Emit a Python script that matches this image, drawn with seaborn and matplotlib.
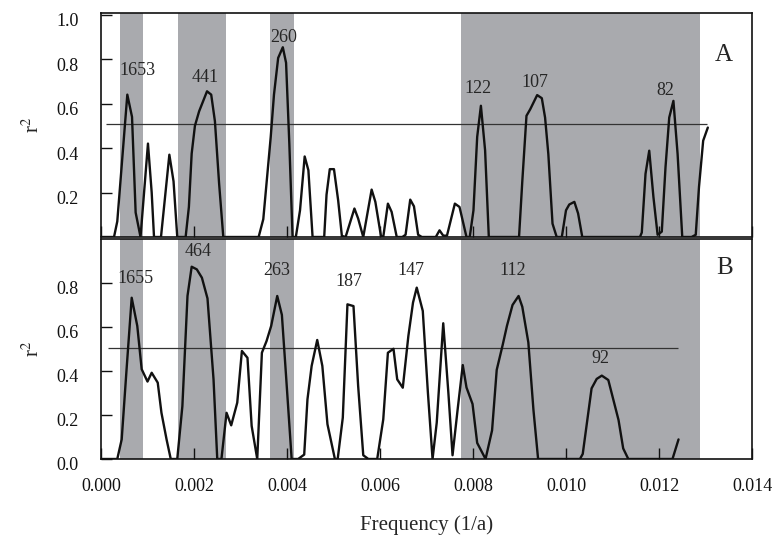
import matplotlib
matplotlib.use("Agg")
import matplotlib.pyplot as plt
from matplotlib.transforms import ScaledTranslation
import seaborn as sns
import pandas as pd

# Periodogram A: frequency (1/a) and r^2
freq_a = [0.0, 0.00028, 0.00035, 0.000566, 0.000667, 0.000745, 0.00085, 0.00101,
          0.00109, 0.00114, 0.00129, 0.00147, 0.00156, 0.00164, 0.00182, 0.00189,
          0.00195, 0.00202, 0.00211, 0.00228, 0.00237, 0.00245, 0.00254, 0.00263,
          0.00339, 0.00349, 0.00365, 0.00372, 0.00381, 0.00391, 0.00398, 0.00405,
          0.00412, 0.00419, 0.00428, 0.00438, 0.00446, 0.00455, 0.0048, 0.00485,
          0.00492, 0.00501, 0.0051, 0.00518, 0.00526, 0.00545, 0.00553, 0.00564,
          0.00582, 0.0059, 0.00602, 0.00607, 0.00617, 0.00625, 0.00636, 0.00648,
          0.00655, 0.00665, 0.00673, 0.00682, 0.0069, 0.0072, 0.00728, 0.00736,
          0.00744, 0.00761, 0.00771, 0.00786, 0.00793, 0.00801, 0.00809, 0.00817,
          0.00826, 0.00834, 0.00899, 0.00906, 0.00915, 0.00923, 0.00938, 0.00948,
          0.00955, 0.00962, 0.00971, 0.0098, 0.00991, 0.0100, 0.01007, 0.01018,
          0.01026, 0.01035, 0.01159, 0.01163, 0.01171, 0.01179, 0.01188, 0.01197,
          0.01206, 0.01214, 0.01222, 0.01231, 0.0124, 0.0125, 0.0127, 0.01279,
          0.01286, 0.01295, 0.01305]
r2_a = [0.0, 0.0, 0.07, 0.64, 0.54, 0.11, 0.0, 0.42,
        0.20, 0.0, 0.0, 0.37, 0.25, 0.0, 0.0, 0.135,
        0.375, 0.50, 0.565, 0.655, 0.64, 0.52, 0.24, 0.0,
        0.0, 0.08, 0.45, 0.64, 0.805, 0.853, 0.783, 0.42,
        0.0, 0.0, 0.12, 0.362, 0.30, 0.0, 0.0, 0.19,
        0.305, 0.305, 0.165, 0.005, 0.0, 0.128, 0.083, 0.0,
        0.213, 0.158, 0.005, 0.0, 0.15, 0.113, 0.0, 0.0,
        0.01, 0.168, 0.138, 0.01, 0.0, 0.0, 0.03, 0.006,
        0.006, 0.15, 0.135, 0.0, 0.0, 0.12, 0.45, 0.59,
        0.39, 0.0, 0.0, 0.25, 0.545, 0.574, 0.638, 0.624,
        0.537, 0.373, 0.06, 0.0, 0.0, 0.12, 0.146, 0.158,
        0.106, 0.0, 0.0, 0.02, 0.284, 0.388, 0.18, 0.01,
        0.024, 0.314, 0.537, 0.612, 0.373, 0.0, 0.0, 0.01,
        0.225, 0.433, 0.492]

# Periodogram B
freq_b = [0.0, 0.00035, 0.000445, 0.00055, 0.00066, 0.00078, 0.000875, 0.0010,
          0.00109, 0.00122, 0.0013, 0.00141, 0.0015, 0.00164, 0.00175, 0.00186,
          0.00195, 0.00206, 0.00217, 0.00229, 0.00242, 0.0025, 0.00259, 0.0027,
          0.0028, 0.00293, 0.00303, 0.00315, 0.00324, 0.00336, 0.00346, 0.00356,
          0.00366, 0.00379, 0.00389, 0.00398, 0.0041, 0.00424, 0.00437, 0.00444,
          0.00453, 0.00465, 0.00476, 0.00487, 0.00503, 0.00509, 0.0052, 0.0053,
          0.00543, 0.00553, 0.00564, 0.00575, 0.00594, 0.00607, 0.00617, 0.00629,
          0.00637, 0.00649, 0.00661, 0.00671, 0.00679, 0.00692, 0.00703, 0.00713,
          0.00722, 0.00736, 0.00747, 0.00756, 0.00767, 0.00778, 0.00786, 0.00799,
          0.00809, 0.00827, 0.00841, 0.00851, 0.00864, 0.00873, 0.00885, 0.00898,
          0.00906, 0.00919, 0.0093, 0.0094, 0.0103, 0.01036, 0.01055, 0.01066,
          0.01077, 0.01091, 0.01113, 0.01123, 0.01134, 0.01229, 0.01242]
r2_b = [0.0, 0.0, 0.089, 0.408, 0.733, 0.605, 0.408, 0.352,
        0.392, 0.347, 0.21, 0.089, 0.0, 0.0, 0.24, 0.741,
        0.874, 0.862, 0.824, 0.73, 0.362, 0.0, 0.0, 0.21,
        0.153, 0.256, 0.491, 0.46, 0.15, 0.0, 0.483, 0.536,
        0.605, 0.741, 0.655, 0.377, 0.0, 0.0, 0.02, 0.271,
        0.423, 0.541, 0.423, 0.158, 0.0, 0.0, 0.188, 0.703,
        0.695, 0.332, 0.017, 0.0, 0.0, 0.18, 0.483, 0.501,
        0.362, 0.324, 0.559, 0.711, 0.779, 0.673, 0.302, 0.0,
        0.165, 0.617, 0.302, 0.017, 0.226, 0.427, 0.325, 0.25,
        0.073, 0.0, 0.13, 0.405, 0.52, 0.605, 0.70, 0.741,
        0.692, 0.53, 0.223, 0.0, 0.0, 0.023, 0.321, 0.364,
        0.379, 0.359, 0.177, 0.048, 0.0, 0.0, 0.089]

# Shaded frequency windows (1/a)
bands = [(0.00041, 0.00091), (0.00166, 0.00268), (0.00363, 0.00414), (0.00774, 0.01288)]

# Significance level and its extent for each panel
sig_a, sig_a_span = 0.508, (0.0001, 0.01303)
sig_b, sig_b_span = 0.503, (0.00015, 0.0124)

# Period labels (years) with their positions
labels_a = ["1653", "441", "260", "122", "107", "82"]
lab_a_x = [0.00078, 0.00225, 0.00393, 0.00810, 0.00933, 0.01213]
lab_a_y = [0.749, 0.719, 0.897, 0.668, 0.693, 0.659]
labels_b = ["1655", "464", "263", "187", "147", "112", "92"]
lab_b_x = [0.00075, 0.00209, 0.00378, 0.00532, 0.00667, 0.00885, 0.01073]
lab_b_y = [0.82, 0.945, 0.855, 0.809, 0.859, 0.859, 0.455]

xticks = [0.000, 0.002, 0.004, 0.006, 0.008, 0.010, 0.012, 0.014]
yticks_a = [0.2, 0.4, 0.6, 0.8, 1.0]
yticks_b = [0.0, 0.2, 0.4, 0.6, 0.8]

sns.set_style("white")
plt.rcParams["font.family"] = ["Liberation Serif", "DejaVu Serif"]
plt.rcParams["mathtext.fontset"] = "stix"

fig = plt.figure(figsize=(7.75, 5.37), dpi=100)
W, H = 775, 537
left, right = 101 / W, 752 / W
ax_a = fig.add_axes([left, 1 - 237 / H, right - left, (237 - 13) / H])
ax_b = fig.add_axes([left, 1 - 459 / H, right - left, (459 - 239) / H])

band_color = "#a9aaae"
panels = [
    (ax_a, freq_a, r2_a, sig_a, sig_a_span, labels_a, lab_a_x, lab_a_y, "A", 0.82, yticks_a, (0, 1.007)),
    (ax_b, freq_b, r2_b, sig_b, sig_b_span, labels_b, lab_b_x, lab_b_y, "B", 0.869, yticks_b, (0, 1.0)),
]

for ax, fx, ry, sig, span, labs, lx, ly, tag, tag_y, yt, ylim in panels:
    for lo, hi in bands:
        ax.axvspan(lo, hi, color=band_color, lw=0, zorder=0)
    ax.hlines(sig, span[0], span[1], color="#333333", lw=0.9, zorder=2)
    df = pd.DataFrame({"freq": fx, "r2": ry})
    sns.lineplot(data=df, x="freq", y="r2", ax=ax, color="#111111", lw=1.7,
                 estimator=None, sort=False, zorder=3)
    for t, x, y in zip(labs, lx, ly):
        ax.text(x, y, t, ha="center", va="center", fontsize=13, zorder=4)
    ax.text(0.0134, tag_y, tag, ha="center", va="center", fontsize=18)
    ax.set_xlim(0, 0.014)
    ax.set_ylim(*ylim)
    ax.set_xticks(xticks)
    ax.set_yticks(yt)
    ax.set_yticklabels([f"{v:.1f}" for v in yt])
    ax.tick_params(axis="both", direction="in", length=8, width=1.0,
                   labelsize=13, colors="#111111", bottom=True, left=True,
                   top=False, right=False)
    ax.tick_params(axis="y", pad=16)
    ax.tick_params(axis="x", pad=14)
    for s in ax.spines.values():
        s.set_linewidth(1.2)
        s.set_color("#111111")
    ax.set_ylabel("r$^2$", fontsize=15)
    ax.yaxis.set_label_coords(-0.088, 0.5)
    offset = ScaledTranslation(0, -5 / 100, fig.dpi_scale_trans)
    for lbl in ax.get_yticklabels():
        lbl.set_transform(lbl.get_transform() + offset)

ax_a.set_xlabel("")
ax_a.tick_params(axis="x", labelbottom=False)
ax_b.set_xticklabels([f"{v:.3f}" for v in xticks])
ax_b.set_xlabel("Frequency (1/a)", fontsize=15, labelpad=14)

fig.savefig("out.png", dpi=100)
